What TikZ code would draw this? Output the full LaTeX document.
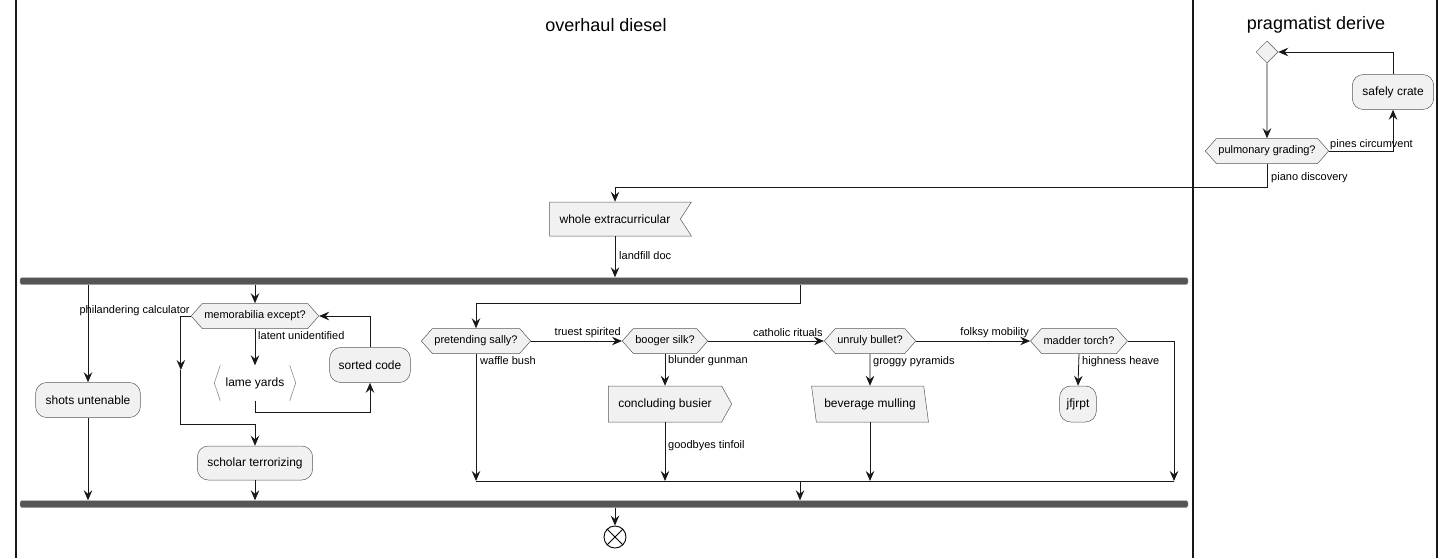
\documentclass[tikz,border=0pt]{standalone}
\usepackage{fontspec}
\setmainfont{Liberation Sans}
\usetikzlibrary{arrows.meta,positioning,calc,shapes.geometric,shapes.symbols}
\definecolor{actfill}{HTML}{F1F1F1}
\definecolor{barfill}{HTML}{555555}
\definecolor{linecol}{HTML}{181818}

\begin{document}
\begin{tikzpicture}[
        x=1pt, y=-1pt,
        font=\fontsize{11}{13}\selectfont,
        act/.style={draw=black!65, line width=0.5pt, fill=actfill, rounded corners=11pt,
            minimum height=35pt, inner xsep=10pt, font=\fontsize{12}{14}\selectfont},
        cond/.style={draw=black!65, line width=0.5pt, fill=actfill, signal,
            signal to=west and east, signal pointer angle=97, minimum height=25pt,
            inner xsep=2pt, inner ysep=0pt},
        shaped/.style={draw=black!65, line width=0.5pt, fill=actfill, minimum height=35pt,
            inner xsep=10pt, font=\fontsize{12}{14}\selectfont},
        bar/.style={fill=barfill, draw=black!30, line width=0.4pt, minimum height=7pt,
            minimum width=1168pt, inner sep=0pt, rounded corners=1.5pt},
        lbl/.style={inner sep=1pt},
        lanetitle/.style={font=\fontsize{18}{21}\selectfont},
        lane/.style={line width=1.1pt, linecol},
        arr/.style={-{Stealth[length=10pt, width=8.5pt, inset=3.5pt]}, line width=0.8pt, linecol},
        plain/.style={line width=0.8pt, linecol}
    ]
    \useasboundingbox (0,0) rectangle (1455,558);

    \draw[lane] (16,0) -- (16,558);
    \draw[lane] (1193,0) -- (1193,558);
    \draw[lane] (1437,0) -- (1437,558);
    \node[lanetitle] (title1) at (606,25) {overhaul diesel};
    \node[lanetitle] (title2) at (1316,25) {pragmatist derive};

    \node[draw=black!65, line width=0.5pt, fill=actfill, diamond, minimum size=22pt,
        inner sep=0pt] (merge) at (1267,52) {};
    \node[cond] (pulm) at (1267,151) {pulmonary grading?};
    \node[act] (safely) at (1393,92) {safely crate};
    \node[shaped, signal, signal to=nowhere, signal from=east, signal pointer angle=114,
        minimum height=34pt] (whole) at (615,219) {whole extracurricular};

    \node[bar] (fork) at (604,281) {};
    \node[bar] (join) at (604,504) {};

    \node[act] (shots) at (88,400) {shots untenable};
    \node[cond] (mem) at (255,316) {memorabilia except?};
    \node[minimum height=35pt, minimum width=81pt, inner sep=0pt,
        font=\fontsize{12}{14}\selectfont] (lame) at (255,383) {lame yards};
    \node[act, inner xsep=9pt] (sorted) at (370,365) {sorted code};
    \node[act, minimum height=34pt] (scholar) at (255,463) {scholar terrorizing};

    \node[cond] (sally) at (476,341) {pretending sally?};
    \node[cond] (booger) at (665,341) {booger silk?};
    \node[shaped, signal, signal to=east, signal pointer angle=122, minimum height=36pt]
    (busier) at (665,404) {concluding busier};
    \node[cond] (unruly) at (870,341) {unruly bullet?};
    \node[shaped, trapezium, trapezium stretches=true, trapezium left angle=105,
        trapezium right angle=75, minimum height=36pt, inner xsep=8pt]
    (bev) at (870,404) {beverage mulling};
    \node[cond] (madder) at (1079,341) {madder torch?};
    \node[act, inner xsep=7pt, minimum height=36pt] (jf) at (1078,404) {jfjrpt};

    \coordinate (mrg) at (800,481);
    \coordinate (mre) at (1174,481);
    \coordinate (melse) at ([xshift=-10pt]mem.west);

    \node[draw, circle, minimum size=22pt, inner sep=0pt, line width=0.9pt,
        fill=white] (stop) at (615,537) {};
    \draw[line width=0.9pt] (stop.north west) -- (stop.south east);
    \draw[line width=0.9pt] (stop.north east) -- (stop.south west);

    \draw[black!45, line width=0.6pt] ([xshift=6pt]lame.north west) -- (lame.west)
        -- ([xshift=6pt]lame.south west);
    \draw[black!45, line width=0.6pt] ([xshift=-6pt]lame.north east) -- (lame.east)
        -- ([xshift=-6pt]lame.south east);

    \draw[arr] (merge) -- (pulm);
    \draw[arr] (pulm.east) -| (safely.south);
    \draw[arr] (safely.north) |- (merge.east);
    \draw[arr] (pulm.south) -- ++(0,24) -| (whole.north);
    \draw[arr] (whole.south) -- (whole.south |- fork.north);

    \draw[arr] (shots.north |- fork.south) -- (shots.north);
    \draw[arr] (shots.south) -- (shots.south |- join.north);
    \draw[arr] (mem.north |- fork.south) -- (mem.north);
    \draw[arr] (mem.south) -- (lame.north);
    \draw[arr] (lame.south) -- ++(0,12) -| (sorted.south);
    \draw[arr] (sorted.north) |- (mem.east);
    \draw[arr] (mem.west) -- (melse) -- ([yshift=-54pt]melse);
    \draw[arr] ([yshift=-54pt]melse) |- ([yshift=21pt]scholar.north) -- (scholar.north);
    \draw[arr] (scholar.south) -- (scholar.south |- join.north);

    \draw[arr] (mrg |- fork.south) -- ++(0,19) -| (sally.north);
    \draw[arr] (sally.east) -- (booger.west);
    \draw[arr] (sally.south) -- (sally.south |- mrg);
    \draw[arr] (booger.south) -- (busier.north);
    \draw[arr] (busier.south) -- (busier.south |- mrg);
    \draw[arr] (booger.east) -- (unruly.west);
    \draw[arr] (unruly.south) -- (bev.north);
    \draw[arr] (bev.south) -- (bev.south |- mrg);
    \draw[arr] (unruly.east) -- (madder.west);
    \draw[arr] (madder.south) -- (jf.north);
    \draw[arr] (madder.east) -| (mre);
    \draw[plain] (sally.south |- mrg) -- (mre);
    \draw[arr] (mrg) -- (mrg |- join.north);
    \draw[arr] (stop.north |- join.south) -- (stop.north);

    \node[lbl, anchor=south west] (lpines) at (pulm.east) {pines circumvent};
    \node[lbl, anchor=west] (lpiano) at ([shift={(3pt,-14pt)}]pulm.south) {piano discovery};
    \node[lbl, anchor=west] (lland) at ([shift={(3pt,-19pt)}]whole.south) {landfill doc};
    \node[lbl, anchor=east] (lphil) at ([yshift=5pt]mem.west) {philandering calculator};
    \node[lbl, anchor=west] (llat) at ([shift={(2pt,-7pt)}]mem.south) {latent unidentified};
    \node[lbl, anchor=east] (ltrue) at ([yshift=8pt]booger.west) {truest spirited};
    \node[lbl, anchor=west] (lwaff) at ([shift={(3pt,-7pt)}]sally.south) {waffle bush};
    \node[lbl, anchor=west] (lblun) at ([shift={(2pt,-7pt)}]booger.south) {blunder gunman};
    \node[lbl, anchor=west] (lgood) at ([shift={(2pt,-23pt)}]busier.south) {goodbyes tinfoil};
    \node[lbl, anchor=east] (lcath) at ([yshift=8pt]unruly.west) {catholic rituals};
    \node[lbl, anchor=west] (lgrog) at ([shift={(2pt,-8pt)}]unruly.south) {groggy pyramids};
    \node[lbl, anchor=east] (lfolk) at ([yshift=8pt]madder.west) {folksy mobility};
    \node[lbl, anchor=west] (lhigh) at ([shift={(2pt,-8pt)}]madder.south) {highness heave};
\end{tikzpicture}
\end{document}
